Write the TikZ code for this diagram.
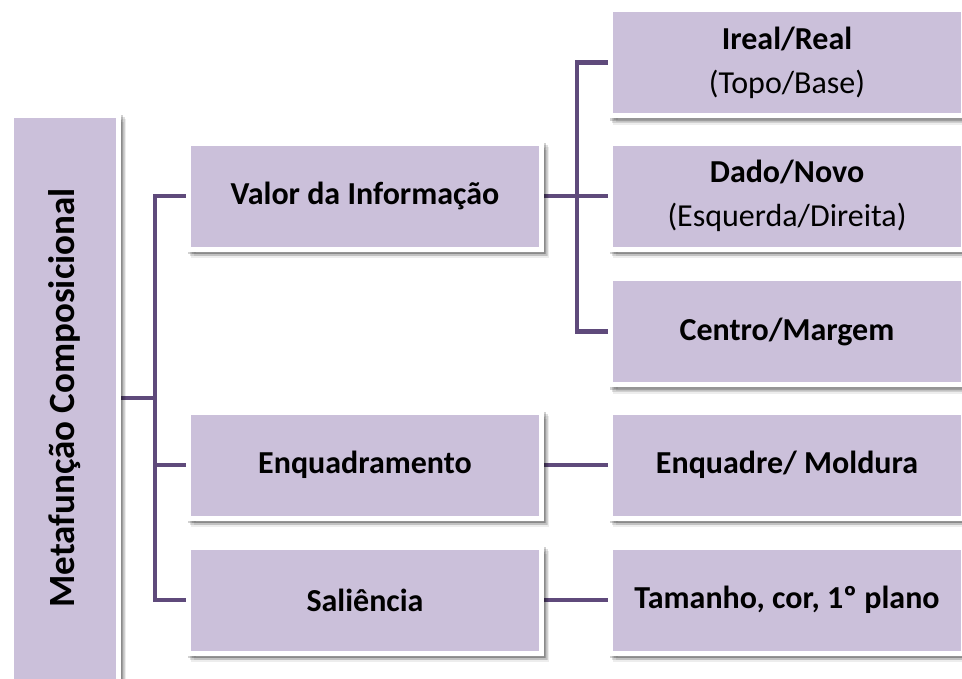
\documentclass[tikz,border=0pt]{standalone}
\usepackage{fontspec}
\setmainfont{Carlito}
\usetikzlibrary{shadows,backgrounds}
\definecolor{boxfill}{HTML}{CBC0DA}
\definecolor{conncol}{HTML}{5F4A7B}
\begin{document}
\begin{tikzpicture}[x=1pt,y=-1pt,
  softshadow/.style={
    drop shadow={shadow xshift=5pt,shadow yshift=-6.5pt,opacity=.07,fill=black,draw=black},
    drop shadow={shadow xshift=3.5pt,shadow yshift=-4.5pt,opacity=.12,fill=black,draw=black},
    drop shadow={shadow xshift=2pt,shadow yshift=-2.5pt,opacity=.18,fill=black,draw=black}},
  box/.style={rectangle, fill=boxfill, draw=white, line width=5pt, inner sep=0pt,
    minimum width=353pt, minimum height=106pt, align=center, text=black,
    font=\fontsize{32}{44}\selectfont\bfseries, softshadow},
  conn/.style={draw=conncol, line width=4.5pt}]
\useasboundingbox (0,0) rectangle (962,678);

\node[box, minimum width=107pt, minimum height=566pt, font=\fontsize{37}{44}\selectfont\bfseries]
  (root) at (65,398) {\rotatebox{90}{Metafunção Composicional}};

\node[box] (valor) at (365,196) {Valor da Informação};
\node[box] (enq)   at (365,465) {Enquadramento};
\node[box] (sal)   at (365,600) {Saliência};

\node[box] (ireal)  at (787,62.5) {Ireal/Real\\\mdseries(Topo/Base)};
\node[box] (dado)   at (787,196) {Dado/Novo\\\mdseries(Esquerda/Direita)};
\node[box] (centro) at (787,331.5) {Centro/Margem};
\node[box] (enqd)   at (787,465) {Enquadre/ Moldura};
\node[box] (tam)    at (787,600) {Tamanho, cor, 1º plano};

\coordinate (j1) at (155,0);
\coordinate (j2) at (577,0);

\begin{scope}[on background layer]
  \fill[white] (0,0) rectangle (962,678);
  \draw[conn] (root.east) -- (root.east -| j1);
  \draw[conn] (valor.west) -| (j1 |- sal.west) -- (sal.west);
  \draw[conn] (enq.west -| j1) -- (enq.west);
  \draw[conn] (valor.east) -- (dado.west);
  \draw[conn] (ireal.west) -| (j2 |- centro.west) -- (centro.west);
  \draw[conn] (enq.east) -- (enqd.west);
  \draw[conn] (sal.east) -- (tam.west);
\end{scope}
\end{tikzpicture}
\end{document}
